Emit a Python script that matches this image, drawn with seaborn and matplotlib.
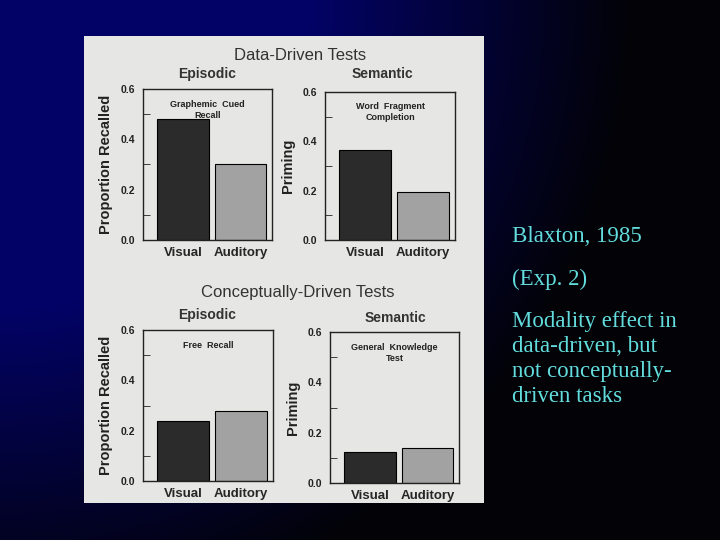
import numpy as np
import pandas as pd
import matplotlib
matplotlib.use('Agg')
import matplotlib.pyplot as plt
import seaborn as sns
from matplotlib.ticker import MultipleLocator

# Blaxton (1985), Exp. 2
modalities = ['Visual', 'Auditory']
graphemic_cued_recall = [0.48, 0.30]
word_fragment_completion = [0.365, 0.195]
free_recall = [0.24, 0.28]
general_knowledge = [0.125, 0.138]

notes = ['Blaxton, 1985', '(Exp. 2)',
         'Modality effect in\ndata-driven, but\nnot conceptually-\ndriven tasks']

sns.set_style('white')
plt.rcParams['font.family'] = ['Liberation Sans', 'DejaVu Sans']

fig = plt.figure(figsize=(7.2, 5.4), dpi=100)

# dark blue slide background, navy in the top-left fading to black
bg = fig.add_axes([0, 0, 1, 1])
yy, xx = np.mgrid[0:540, 0:720]
r = np.sqrt(xx ** 2 + yy ** 2)
shade = np.clip((630 - r) / 320.0, 0, 1)
img = np.dstack([0.01 + 0.0 * shade, 0.01 + 0.0 * shade, 0.03 + 0.37 * shade])
bg.imshow(img, aspect='auto', extent=[0, 1, 0, 1])
bg.set_axis_off()

# scanned page
page = fig.add_axes([84 / 720, 1 - 503 / 540, 400 / 720, 467 / 540])
page.set_facecolor('#e6e6e4')
page.set_xticks([])
page.set_yticks([])
for s in page.spines.values():
    s.set_visible(False)

bar_colors = ['#2b2b2b', '#a2a2a2']


def panel(rect, values, label, ylabel):
    ax = fig.add_axes(rect)
    ax.set_facecolor('#e6e6e4')
    df = pd.DataFrame({'modality': modalities, 'value': values})
    sns.barplot(data=df, x='modality', y='value', hue='modality',
                palette=bar_colors, width=0.9, edgecolor='black',
                linewidth=0.8, legend=False, ax=ax)
    ax.set_xlim(-0.7, 1.55)
    ax.set_ylim(0, 0.6)
    ax.yaxis.set_minor_locator(MultipleLocator(0.1))
    ax.set_yticks([0, 0.2, 0.4, 0.6])
    ax.set_yticklabels(['0.0', '0.2', '0.4', '0.6'])
    ax.tick_params(axis='y', which='both', direction='in', left=True,
                   labelsize=7.5, pad=6, colors='#222222')
    ax.tick_params(axis='y', which='major', length=0)
    ax.tick_params(axis='y', which='minor', length=5)
    ax.tick_params(axis='x', length=0, labelsize=9.5, pad=5)
    for t in ax.get_xticklabels() + ax.get_yticklabels():
        t.set_fontweight('bold')
    for s in ax.spines.values():
        s.set_visible(True)
        s.set_color('#222222')
        s.set_linewidth(1.0)
    ax.set_xlabel('')
    ax.set_ylabel(ylabel, fontsize=10.5, fontweight='bold', color='#222222',
                  labelpad=5)
    ax.text(0.5, 0.93, label, transform=ax.transAxes, ha='center',
            va='top', fontsize=6.5, fontweight='bold', color='#222222',
            linespacing=1.3)
    return ax


panel([143 / 720, 1 - 240 / 540, 129 / 720, 151 / 540],
      graphemic_cued_recall, 'Graphemic  Cued\nRecall', 'Proportion Recalled')
panel([325 / 720, 1 - 240 / 540, 130 / 720, 148 / 540],
      word_fragment_completion, 'Word  Fragment\nCompletion', 'Priming')
panel([143 / 720, 1 - 481 / 540, 130 / 720, 151 / 540],
      free_recall, 'Free  Recall', 'Proportion Recalled')
panel([330 / 720, 1 - 483 / 540, 129 / 720, 151 / 540],
      general_knowledge, 'General  Knowledge\nTest', 'Priming')

# section titles on the scan
fig.text(300 / 720, 1 - 55 / 540, 'Data-Driven Tests', ha='center',
         va='center', fontsize=12, color='#333333')
fig.text(207 / 720, 1 - 74 / 540, 'Episodic', ha='center', va='center',
         fontsize=10, fontweight='bold', color='#333333')
fig.text(382 / 720, 1 - 74 / 540, 'Semantic', ha='center', va='center',
         fontsize=10, fontweight='bold', color='#333333')
fig.text(298 / 720, 1 - 293 / 540, 'Conceptually-Driven Tests', ha='center',
         va='center', fontsize=12, color='#333333')
fig.text(207 / 720, 1 - 315 / 540, 'Episodic', ha='center', va='center',
         fontsize=10, fontweight='bold', color='#333333')
fig.text(395 / 720, 1 - 318 / 540, 'Semantic', ha='center', va='center',
         fontsize=10, fontweight='bold', color='#333333')

# slide notes
serif = ['Liberation Serif', 'DejaVu Serif']
fig.text(512 / 720, 1 - 236 / 540, notes[0], family=serif, fontsize=16.5,
         color='#62dcdc', va='center')
fig.text(512 / 720, 1 - 279 / 540, notes[1], family=serif, fontsize=16.5,
         color='#62dcdc', va='center')
fig.text(512 / 720, 1 - 311 / 540, notes[2], family=serif, fontsize=16.5,
         color='#62dcdc', va='top', linespacing=1.25)

fig.savefig('out.png', dpi=100)
